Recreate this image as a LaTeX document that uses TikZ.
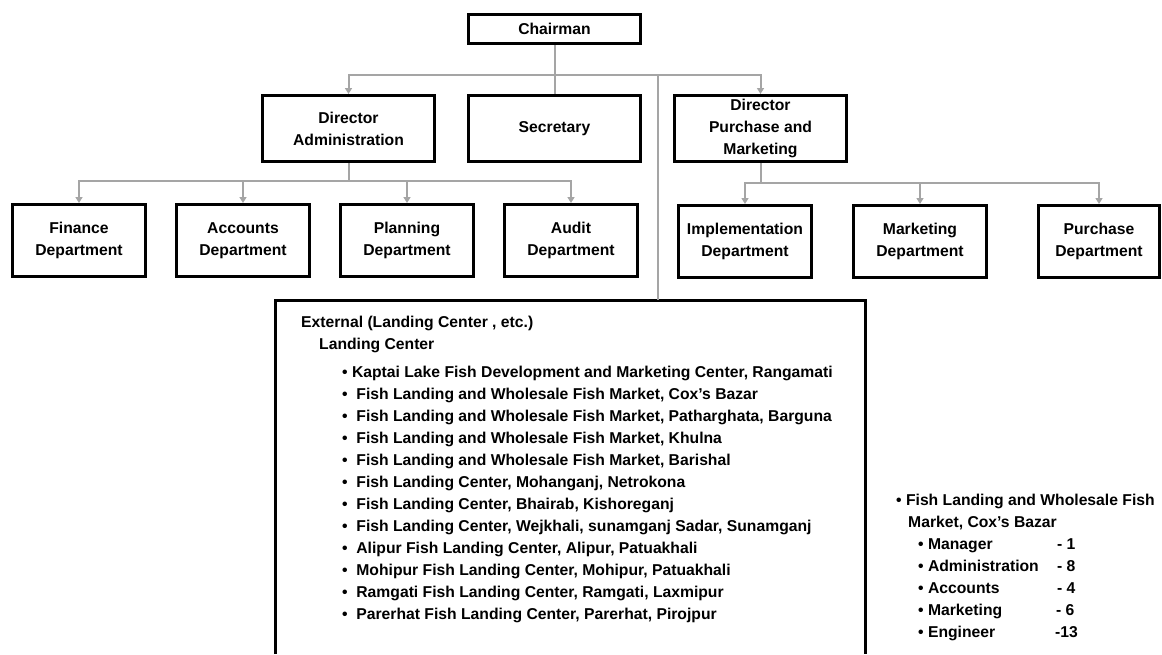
\documentclass[tikz,border=0pt]{standalone}
\usepackage{fontspec}
\setmainfont{Liberation Sans}
\usetikzlibrary{arrows.meta,positioning}

\definecolor{linkgray}{RGB}{165,165,165}
\newcommand{\bul}{\textbullet}

\begin{document}
\begin{tikzpicture}[
  x=1pt,y=-1pt,
  every node/.style={align=center,inner sep=0pt,font=\bfseries\fontsize{15.7}{22}\selectfont},
  head/.style={rectangle,draw,line width=3pt,minimum width=172pt,minimum height=29pt},
  dir/.style={rectangle,draw,line width=3pt,minimum width=172pt,minimum height=66pt},
  dept/.style={rectangle,draw,line width=3pt,minimum width=133pt,minimum height=72pt},
  extarea/.style={rectangle,outer sep=0pt,minimum width=590pt,minimum height=354pt},
  frame/.style={line width=3pt},
  link/.style={draw=linkgray,line width=2pt},
  linkarrow/.style={link,-{Triangle[width=7pt,length=6pt]},linkgray}
]
\useasboundingbox (0,0) rectangle (1162,654);

\node[head] (chair) at (554.5,29) {Chairman};
\node[dir,below=49pt of chair] (sec) {Secretary};
\node[dir,left=31pt of sec] (dadm) {Director\\Administration};
\node[dir,right=31pt of sec] (dpm) {Director\\Purchase and\\Marketing};

\node[dept] (fin) at (79,240.5) {Finance\\Department};
\node[dept,right=28pt of fin] (acc) {Accounts\\Department};
\node[dept,right=28pt of acc] (pla) {Planning\\Department};
\node[dept,right=28pt of pla] (aud) {Audit\\Department};

\node[dept] (imp) at (745,241.5) {Implementation\\Department};
\node[dept,right=39pt of imp] (mkt) {Marketing\\Department};
\node[dept,right=49pt of mkt,minimum width=121pt] (pur) {Purchase\\Department};

% external landing centers
\node[extarea] (ext) at (570.5,477) {};
\draw[frame] (ext.south west) -- (ext.north west) -- (ext.north east) -- (ext.south east);
\node[anchor=north west,align=left] (extlist) at (301,316) {External (Landing Center , etc.)\\
  \hspace*{18pt}Landing Center\\[6pt]
  \hspace*{41pt}\bul\ Kaptai Lake Fish Development and Marketing Center, Rangamati\\
  \hspace*{41pt}\bul\ \ Fish Landing and Wholesale Fish Market, Cox’s Bazar\\
  \hspace*{41pt}\bul\ \ Fish Landing and Wholesale Fish Market, Patharghata, Barguna\\
  \hspace*{41pt}\bul\ \ Fish Landing and Wholesale Fish Market, Khulna\\
  \hspace*{41pt}\bul\ \ Fish Landing and Wholesale Fish Market, Barishal\\
  \hspace*{41pt}\bul\ \ Fish Landing Center, Mohanganj, Netrokona\\
  \hspace*{41pt}\bul\ \ Fish Landing Center, Bhairab, Kishoreganj\\
  \hspace*{41pt}\bul\ \ Fish Landing Center, Wejkhali, sunamganj Sadar, Sunamganj\\
  \hspace*{41pt}\bul\ \ Alipur Fish Landing Center, Alipur, Patuakhali\\
  \hspace*{41pt}\bul\ \ Mohipur Fish Landing Center, Mohipur, Patuakhali\\
  \hspace*{41pt}\bul\ \ Ramgati Fish Landing Center, Ramgati, Laxmipur\\
  \hspace*{41pt}\bul\ \ Parerhat Fish Landing Center, Parerhat, Pirojpur};

% staff of one center
\node[anchor=north west,align=left] (staff) at (896,494) {\bul\ Fish Landing and Wholesale Fish\\
  \hspace*{12pt}Market, Cox’s Bazar\\
  \hspace*{22pt}\bul\ \makebox[129pt][l]{Manager}- 1\\
  \hspace*{22pt}\bul\ \makebox[129pt][l]{Administration}- 8\\
  \hspace*{22pt}\bul\ \makebox[129pt][l]{Accounts}- 4\\
  \hspace*{22pt}\bul\ \makebox[128pt][l]{Marketing}- 6\\
  \hspace*{22pt}\bul\ \makebox[127pt][l]{Engineer}-13};

% connectors
\draw[link] (chair.south) -- (sec.north);
\path (chair.south) ++(0,30) coordinate (topbus);
\draw[linkarrow] (topbus) -| (dadm.north);
\draw[linkarrow] (topbus) -| (dpm.north);
\coordinate (extin) at (658,75);
\draw[link] (extin) -- (extin |- ext.north);

\path (dadm.south) ++(0,18) coordinate (admbus);
\draw[link] (dadm.south) -- (admbus);
\draw[linkarrow] (admbus) -| (fin.north);
\draw[linkarrow] (admbus) -| (acc.north);
\draw[linkarrow] (admbus) -| (pla.north);
\draw[linkarrow] (admbus) -| (aud.north);

\path (dpm.south) ++(0,20) coordinate (pmbus);
\draw[link] (dpm.south) -- (pmbus);
\draw[linkarrow] (pmbus) -| (imp.north);
\draw[linkarrow] (pmbus) -| (mkt.north);
\draw[linkarrow] (pmbus) -| (pur.north);
\end{tikzpicture}
\end{document}
